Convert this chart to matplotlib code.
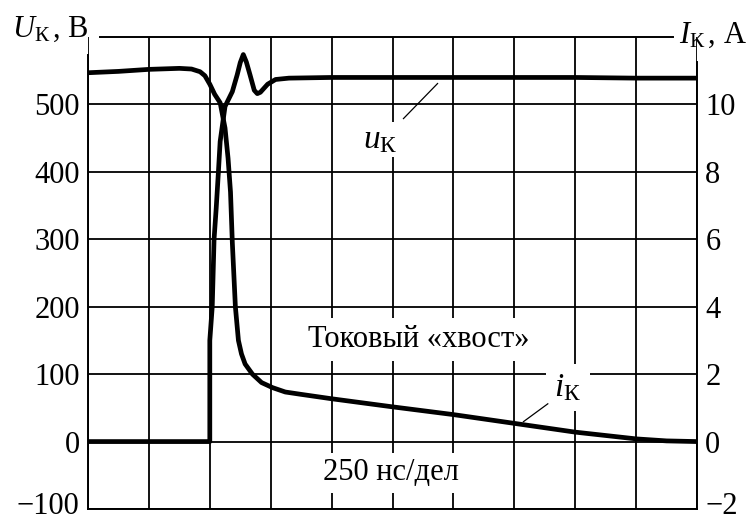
import matplotlib
matplotlib.use('Agg')
import matplotlib.pyplot as plt

plt.rcParams['font.family'] = ['Liberation Serif', 'DejaVu Serif']
plt.rcParams['mathtext.fontset'] = 'custom'
plt.rcParams['mathtext.rm'] = 'Liberation Serif'
plt.rcParams['mathtext.it'] = 'Liberation Serif:italic'

# time in divisions (250 ns/div)
t_u = [0, 1, 2.0, 2.0, 2.04, 2.07, 2.105, 2.14, 2.17, 2.25, 2.37, 2.45, 2.50, 2.55,
       2.60, 2.66, 2.73, 2.78, 2.83, 2.95, 3.08, 3.3, 4, 5, 6, 7, 8, 9, 10]
u_k = [0, 0, 0, 150, 200, 300, 346, 398, 445, 497, 519, 544, 562, 574,
       563, 544, 521, 516, 518, 530, 537, 539, 540, 540, 540, 540, 540, 539, 539]

t_i = [0, 0.5, 1, 1.5, 1.7, 1.84, 1.92, 2.0, 2.08, 2.17, 2.25, 2.30, 2.34, 2.37,
       2.42, 2.47, 2.52, 2.58, 2.70, 2.85, 3.03, 3.24, 3.5, 4, 5, 6, 7, 8, 9,
       9.5, 10]
i_k = [10.94, 10.98, 11.04, 11.07, 11.05, 10.97, 10.85, 10.6, 10.3, 10.05, 9.3,
       8.4, 7.4, 5.9, 4.0, 3.0, 2.6, 2.3, 2.0, 1.75, 1.6, 1.47, 1.40, 1.27, 1.03,
       0.8, 0.54, 0.28, 0.08, 0.02, 0]

u_ticks = [-100, 0, 100, 200, 300, 400, 500]
i_ticks = [-2, 0, 2, 4, 6, 8, 10]


def fmt(v):
    return str(v).replace('-', '\u2212')


fs = 22
fig = plt.figure(figsize=(7.5, 5.21), dpi=100)
ax = fig.add_axes([88 / 750, 1 - 509 / 521, (697 - 88) / 750, (509 - 37) / 521])
ax2 = ax.twinx()

ax.set_xlim(0, 10)
ax.set_ylim(-100, 600)
ax2.set_ylim(-2, 12)

ax.set_xticks(range(11))
ax.set_xticklabels([])
ax.set_yticks(u_ticks)
# lowest labels sit on the bottom edge, drawn separately a bit higher
ax.set_yticklabels([''] + [fmt(v) for v in u_ticks[1:]], fontsize=fs)
ax2.set_yticks(i_ticks)
ax2.set_yticklabels([''] + [fmt(v) for v in i_ticks[1:]], fontsize=fs)
ax.tick_params(length=0, pad=6)
ax2.tick_params(length=0, pad=6)
ax.annotate(fmt(u_ticks[0]), xy=(0, u_ticks[0]), xycoords=('axes fraction', 'data'),
            xytext=(-6, 2), textcoords='offset points', ha='right', va='center',
            fontsize=fs)
ax2.annotate(fmt(i_ticks[0]), xy=(1, i_ticks[0]), xycoords=('axes fraction', 'data'),
             xytext=(6, 2), textcoords='offset points', ha='left', va='center',
             fontsize=fs)
ax.grid(True, color='black', linewidth=1.3)
ax.set_axisbelow(True)

for a in (ax, ax2):
    a.spines['top'].set_visible(False)
    for s in a.spines.values():
        s.set_linewidth(1.4)
ax.spines['right'].set_visible(False)
ax2.spines['left'].set_visible(False)
ax2.spines['bottom'].set_visible(False)
ax.spines['left'].set_bounds(-100, 574)
ax2.spines['right'].set_bounds(-2, 11.27)
ax.axhline(600, xmin=0.02, xmax=0.96, color='black', linewidth=1.4, clip_on=False)

ax.text(5.43, 152, 'Токовый «хвост»', fontsize=fs, ha='center', va='center',
        bbox=dict(facecolor='white', edgecolor='none', pad=5), zorder=2.5)
ax.text(4.98, -46, '250 нс/дел', fontsize=fs, ha='center', va='center',
        bbox=dict(facecolor='white', edgecolor='none', pad=4), zorder=2.5)
ax.text(4.8, 448, r'$u_{\mathrm{К}}$', fontsize=fs + 2, ha='center', va='center',
        bbox=dict(facecolor='white', edgecolor='none', pad=2), zorder=2.5)
ax.plot([5.18, 5.74], [479, 531], color='black', linewidth=0.9, zorder=2.6)
ax.text(7.88, 80, r'$i_{\mathrm{К}}$', fontsize=fs + 2, ha='center', va='center',
        bbox=dict(facecolor='white', edgecolor='none', pad=6), zorder=2.5)
ax2.plot([7.55, 7.15], [1.12, 0.59], color='black', linewidth=0.9)

ax.plot(t_u, u_k, color='black', linewidth=3.4, solid_joinstyle='round', zorder=3)
ax2.plot(t_i, i_k, color='black', linewidth=3.4, solid_joinstyle='round')

fig.text(12 / 750, 1 - 37 / 521, r'$U_{\mathrm{К}}\,$, В', fontsize=fs, va='baseline')
fig.text(679 / 750, 1 - 43 / 521, r'$I_{\mathrm{К}}\,$, А', fontsize=fs, va='baseline')

fig.savefig('out.png', dpi=100)
